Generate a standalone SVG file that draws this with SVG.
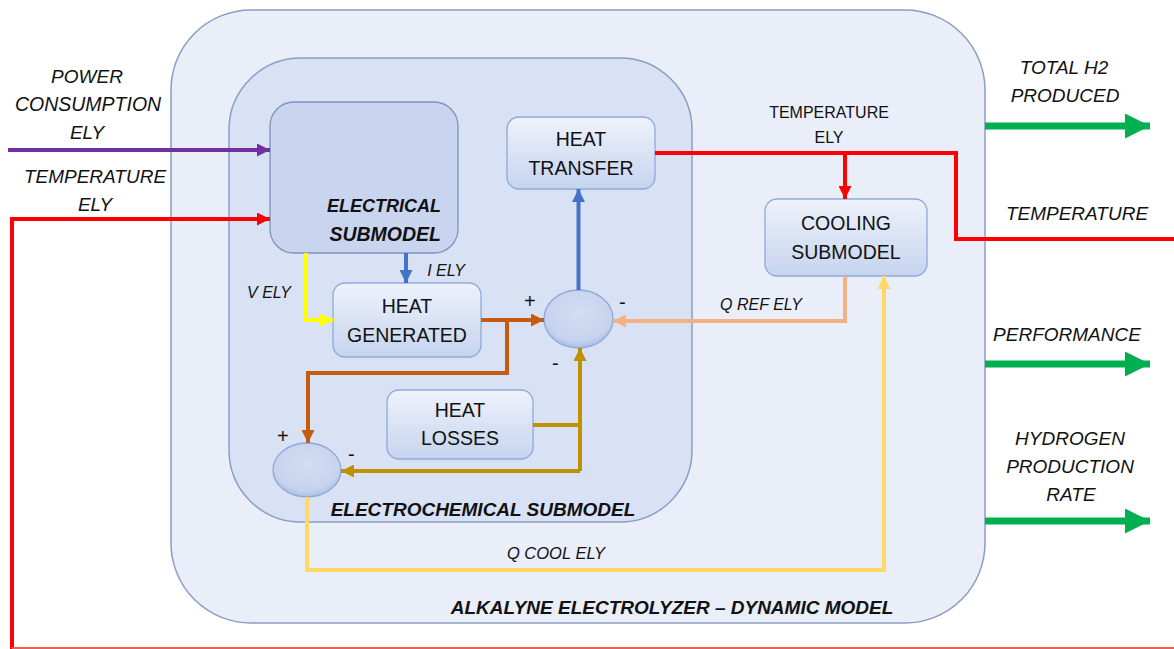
<svg xmlns="http://www.w3.org/2000/svg" width="1174" height="649" viewBox="0 0 1174 649">
<defs>
<style>
.t{font-family:"Liberation Sans",Arial,sans-serif;fill:#111;}
.it{font-style:italic;}
.b{font-weight:bold;}
.c{text-anchor:middle;}
.e{text-anchor:end;}
.ln{fill:none;stroke-linejoin:miter;}
.box{stroke:#8eaadb;stroke-width:1.3;fill:url(#gBox);}
.sum{stroke:#8fa8d8;stroke-width:1.3;fill:url(#gSum);}
</style>
<linearGradient id="gBox" x1="0" y1="0" x2="0" y2="1">
<stop offset="0" stop-color="#eef2fb"/>
<stop offset="1" stop-color="#c6d4ef"/>
</linearGradient>
<radialGradient id="gSum" cx="0.5" cy="0.4" r="0.6">
<stop offset="0" stop-color="#d3dcf2"/>
<stop offset="0.8" stop-color="#c7d3ee"/>
<stop offset="1" stop-color="#a9bde6"/>
</radialGradient>
<marker id="aPur" viewBox="0 0 12 12" markerWidth="13" markerHeight="13" refX="12" refY="6" orient="auto" markerUnits="userSpaceOnUse"><path d="M0,0 L12,6 L0,12 z" fill="#7030a0"/></marker>
<marker id="aRed" viewBox="0 0 12 12" markerWidth="13" markerHeight="13" refX="12" refY="6" orient="auto" markerUnits="userSpaceOnUse"><path d="M0,0 L12,6 L0,12 z" fill="#ff0000"/></marker>
<marker id="aBlu" viewBox="0 0 12 12" markerWidth="13" markerHeight="13" refX="12" refY="6" orient="auto" markerUnits="userSpaceOnUse"><path d="M0,0 L12,6 L0,12 z" fill="#4472c4"/></marker>
<marker id="aYel" viewBox="0 0 12 12" markerWidth="13" markerHeight="13" refX="12" refY="6" orient="auto" markerUnits="userSpaceOnUse"><path d="M0,0 L12,6 L0,12 z" fill="#ffff00"/></marker>
<marker id="aOra" viewBox="0 0 12 12" markerWidth="13" markerHeight="13" refX="12" refY="6" orient="auto" markerUnits="userSpaceOnUse"><path d="M0,0 L12,6 L0,12 z" fill="#c55a11"/></marker>
<marker id="aGol" viewBox="0 0 12 12" markerWidth="13" markerHeight="13" refX="12" refY="6" orient="auto" markerUnits="userSpaceOnUse"><path d="M0,0 L12,6 L0,12 z" fill="#bf9000"/></marker>
<marker id="aPea" viewBox="0 0 12 12" markerWidth="13" markerHeight="13" refX="12" refY="6" orient="auto" markerUnits="userSpaceOnUse"><path d="M0,0 L12,6 L0,12 z" fill="#f4b183"/></marker>
<marker id="aLy" viewBox="0 0 12 12" markerWidth="13" markerHeight="13" refX="12" refY="6" orient="auto" markerUnits="userSpaceOnUse"><path d="M0,0 L12,6 L0,12 z" fill="#ffd966"/></marker>
<marker id="aGrn" viewBox="0 0 24 24" markerWidth="25" markerHeight="25" refX="24" refY="12" orient="auto" markerUnits="userSpaceOnUse"><path d="M0,0 L24,12 L0,24 z" fill="#00b050"/></marker>
</defs>
<rect width="1174" height="649" fill="#ffffff"/>

<g id="outer-model">
<rect x="171" y="10" width="814" height="613" rx="80" ry="80" fill="#e9eef9" stroke="#8b9dc3" stroke-width="1.5"/>
<text class="t it b c" x="672" y="614" font-size="19">ALKALYNE ELECTROLYZER – DYNAMIC MODEL</text>
</g>

<g id="electrochemical-submodel">
<rect x="229" y="58" width="463" height="464" rx="72" ry="72" fill="#d9e1f4" stroke="#8b9dc3" stroke-width="1.5"/>
<text class="t it b c" x="483" y="516" font-size="19">ELECTROCHEMICAL SUBMODEL</text>
</g>

<g id="electrical-submodel">
<rect x="270" y="102" width="188" height="151" rx="24" ry="24" fill="#c9d5ef" stroke="#7f93bf" stroke-width="1.3"/>
<text class="t it b e" x="441" y="212" font-size="18">ELECTRICAL</text>
<text class="t it b e" x="441" y="241" font-size="19.5">SUBMODEL</text>
</g>

<g id="heat-transfer">
<rect class="box" x="507" y="117" width="148" height="72" rx="12" ry="12"/>
<text class="t c" x="581" y="146" font-size="19.5">HEAT</text>
<text class="t c" x="581" y="175" font-size="19.5">TRANSFER</text>
</g>

<g id="cooling-submodel">
<rect class="box" x="765" y="199" width="162" height="77" rx="12" ry="12"/>
<text class="t c" x="846" y="230" font-size="19.5">COOLING</text>
<text class="t c" x="846" y="259" font-size="19.5">SUBMODEL</text>
</g>

<g id="heat-generated">
<rect class="box" x="333" y="283" width="148" height="74" rx="12" ry="12"/>
<text class="t c" x="407" y="313" font-size="19.5">HEAT</text>
<text class="t c" x="407" y="342" font-size="19.5">GENERATED</text>
</g>

<g id="heat-losses">
<rect class="box" x="387" y="390" width="146" height="69" rx="12" ry="12"/>
<text class="t c" x="460" y="417" font-size="19.5">HEAT</text>
<text class="t c" x="460" y="445" font-size="19.5">LOSSES</text>
</g>

<g id="sum-1">
<ellipse class="sum" cx="578.5" cy="319" rx="34.5" ry="29"/>
<text class="t" x="524" y="308" font-size="20">+</text>
<text class="t" x="619" y="309" font-size="20">-</text>
<text class="t" x="552" y="370" font-size="20">-</text>
</g>

<g id="sum-2">
<ellipse class="sum" cx="307" cy="470" rx="34" ry="27"/>
<text class="t" x="277" y="443" font-size="20">+</text>
<text class="t" x="348" y="461" font-size="20">-</text>
</g>

<g id="connectors">
<path class="ln" d="M8,150 H270" stroke="#7030a0" stroke-width="4" marker-end="url(#aPur)"/>
<path class="ln" d="M12,649 V219 H270" stroke="#ff0000" stroke-width="4" marker-end="url(#aRed)"/>
<path class="ln" d="M12,648 H1174" stroke="#f05a5a" stroke-width="2"/>
<path class="ln" d="M655,153 H956 V239 H1174" stroke="#ff0000" stroke-width="4"/>
<path class="ln" d="M845,153 V199" stroke="#ff0000" stroke-width="4" marker-end="url(#aRed)"/>
<path class="ln" d="M406,253 V283" stroke="#4472c4" stroke-width="4" marker-end="url(#aBlu)"/>
<path class="ln" d="M578.5,290 V189" stroke="#4472c4" stroke-width="4" marker-end="url(#aBlu)"/>
<path class="ln" d="M306,253 V320 H333" stroke="#ffff00" stroke-width="4" marker-end="url(#aYel)"/>
<path class="ln" d="M481,320 H544" stroke="#c55a11" stroke-width="4" marker-end="url(#aOra)"/>
<path class="ln" d="M507,320 V373 H308 V443" stroke="#c55a11" stroke-width="4" marker-end="url(#aOra)"/>
<path class="ln" d="M533,425 H580" stroke="#bf9000" stroke-width="4"/>
<path class="ln" d="M580,471 V348" stroke="#bf9000" stroke-width="4" marker-end="url(#aGol)"/>
<path class="ln" d="M580,471 H341" stroke="#bf9000" stroke-width="4" marker-end="url(#aGol)"/>
<path class="ln" d="M845,276 V321 H613" stroke="#f4b183" stroke-width="4" marker-end="url(#aPea)"/>
<path class="ln" d="M307,497 V570 H884 V276" stroke="#ffd966" stroke-width="4" marker-end="url(#aLy)"/>
<path class="ln" d="M985,126 H1150" stroke="#00b050" stroke-width="7" marker-end="url(#aGrn)"/>
<path class="ln" d="M985,364 H1150" stroke="#00b050" stroke-width="7" marker-end="url(#aGrn)"/>
<path class="ln" d="M985,521 H1150" stroke="#00b050" stroke-width="7" marker-end="url(#aGrn)"/>
</g>

<g id="labels">
<text class="t it c" x="87" y="83" font-size="19">POWER</text>
<text class="t it c" x="88" y="111" font-size="19.5">CONSUMPTION</text>
<text class="t it c" x="87" y="139" font-size="19">ELY</text>
<text class="t it c" x="95" y="183" font-size="19">TEMPERATURE</text>
<text class="t it c" x="95" y="211" font-size="19">ELY</text>
<text class="t c" x="829" y="118" font-size="16">TEMPERATURE</text>
<text class="t c" x="829" y="143" font-size="16">ELY</text>
<text class="t it c" x="269" y="298" font-size="16">V ELY</text>
<text class="t it c" x="446" y="276" font-size="16">I ELY</text>
<text class="t it c" x="761" y="310" font-size="16">Q REF ELY</text>
<text class="t it c" x="556" y="559" font-size="16.5">Q COOL ELY</text>
<text class="t it c" x="1064" y="74" font-size="19">TOTAL H2</text>
<text class="t it c" x="1065" y="102" font-size="19">PRODUCED</text>
<text class="t it c" x="1077" y="220" font-size="19">TEMPERATURE</text>
<text class="t it c" x="1067" y="341" font-size="19">PERFORMANCE</text>
<text class="t it c" x="1070" y="445" font-size="19">HYDROGEN</text>
<text class="t it c" x="1070" y="473" font-size="19">PRODUCTION</text>
<text class="t it c" x="1071" y="501" font-size="19">RATE</text>
</g>
</svg>
